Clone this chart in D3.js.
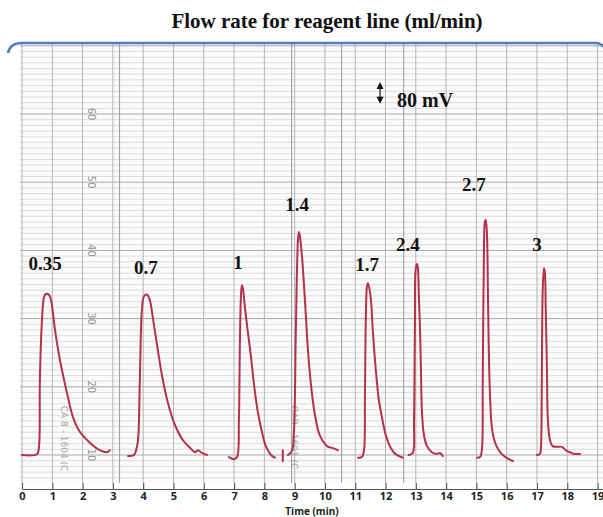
<!DOCTYPE html>
<html>
<head>
<meta charset="utf-8">
<script src="https://cdn.jsdelivr.net/npm/d3@7"></script>
<style>
  html, body { margin: 0; padding: 0; background: #fff; }
  svg { display: block; }
</style>
</head>
<body>
<script>
// Flow rate of the reagent line for each injection (ml/min)
const flowRates = ["0.35", "0.7", "1", "1.4", "1.7", "2.4", "2.7", "3"];

// Recorder trace of each injection: [time (min), chart divisions]
const peak035 = [[0,10],[0.5,10.15],[0.56,11.2],[0.59,21.0],[0.66,29.8],[0.73,33.2],[0.79,33.6],[0.89,33.5],[0.96,32.7],[1.09,28.3],[1.25,24.0],[1.49,19.0],[1.68,15.6],[1.91,13.4],[2.24,11.8],[2.57,10.7],[2.81,10.4],[2.9,10.7]];
const peak07 = [[3.5,9.85],[3.7,10.0],[3.76,10.6],[3.83,12.2],[3.89,21.0],[3.96,31.3],[4.03,33.3],[4.13,33.5],[4.22,32.7],[4.32,30.1],[4.46,26.1],[4.62,21.7],[4.82,17.6],[5.05,14.4],[5.31,12.2],[5.58,10.9],[5.71,10.4],[5.81,10.7],[5.94,10.3],[6.11,10.0]];
const peak1 = [[6.83,9.7],[7.0,9.4],[7.1,9.7],[7.16,15.1],[7.19,25.4],[7.23,33.5],[7.26,34.9],[7.29,34.5],[7.36,31.6],[7.46,27.9],[7.56,24.4],[7.66,20.3],[7.79,16.2],[7.92,13.4],[8.05,11.3],[8.22,10.0],[8.35,9.6]];
const penMark = [[8.61,10.7],[8.61,9.1]];
const peak14 = [[8.78,10.0],[8.91,10.6],[8.98,13.7],[9.04,28.3],[9.11,41.5],[9.14,42.7],[9.17,42.2],[9.24,39.3],[9.34,32.7],[9.44,25.4],[9.54,20.3],[9.67,15.9],[9.83,12.9],[10.07,11.3],[10.26,11.0],[10.43,10.7]];
const peak17 = [[11.09,9.6],[11.22,9.7],[11.29,10.7],[11.32,18.1],[11.35,29.8],[11.39,34.8],[11.42,35.2],[11.45,34.8],[11.52,32.7],[11.58,28.3],[11.68,22.5],[11.78,18.1],[11.88,15.6],[12.01,12.9],[12.18,11.0],[12.34,10.1],[12.57,9.6]];
const peak24 = [[12.77,10.0],[12.9,10.3],[12.94,15.1],[12.97,28.3],[13.0,37.4],[13.04,38.0],[13.07,37.4],[13.1,33.5],[13.14,28.3],[13.17,22.5],[13.2,16.6],[13.27,12.9],[13.37,11.3],[13.53,10.4],[13.7,10.15],[13.8,10.3],[13.89,9.85]];
const peak27 = [[15.02,9.6],[15.12,9.7],[15.18,10.7],[15.21,21.0],[15.25,40.1],[15.28,44.2],[15.31,44.5],[15.35,42.3],[15.38,34.2],[15.41,25.4],[15.45,18.8],[15.51,14.1],[15.61,11.9],[15.74,10.7],[15.91,9.85],[16.11,9.3],[16.21,9.1]];
const peak3 = [[17.0,10.0],[17.1,10.15],[17.13,11.0],[17.16,21.0],[17.19,34.2],[17.23,37.4],[17.26,36.8],[17.29,31.3],[17.33,22.5],[17.36,15.1],[17.43,12.2],[17.52,11.3],[17.66,11.2],[17.82,11.2],[17.95,10.7],[18.09,10.4],[18.25,10.15],[18.42,10.15]];

// Where each flow-rate label sits: [time (min), chart divisions]
const labelAt = [[0.76,37.1],[4.09,36.5],[7.13,37.3],[9.08,45.8],[11.39,37.0],[12.74,39.9],[14.92,48.7],[17.0,39.9]];

// Time axis ticks (min) and printed chart-paper scale
const timeTicks = d3.range(0, 20);
const paperScale = [10, 20, 30, 40, 50, 60];
const seams = [3.22, 8.9, 10.55, 12.6];

// 80 mV scale bar: time, from/to level (chart divisions)
const scaleBar = { time: 11.82, from: 61.5, to: 64.7, text: "80 mV" };

const W = 603, H = 517;
const svg = d3.select("body").append("svg").attr("width", W).attr("height", H);

const x = d3.scaleLinear().domain([0, 19.18]).range([22, 603]);
const y = d3.scaleLinear().domain([10, 60]).range([455, 114]);

const paperTop = 70.4, paperBottom = 5.9;
const px0 = 20, px1 = W;

// chart paper
svg.append("rect")
  .attr("x", px0).attr("y", y(paperTop))
  .attr("width", px1 - px0).attr("height", y(paperBottom) - y(paperTop))
  .attr("fill", "#fcfbfb");

// fine horizontal rulings, twelve per major division
const grid = svg.append("g");
const minorStep = 10 / 12;
for (let i = -4; i * minorStep + 10 <= paperTop; i++) {
  const v = 10 + i * minorStep;
  const major = i % 12 === 0;
  grid.append("line")
    .attr("x1", px0).attr("x2", px1)
    .attr("y1", y(v)).attr("y2", y(v))
    .attr("stroke", major ? "#a9a9a9" : "#d6d6d6")
    .attr("stroke-width", major ? 1 : 0.8);
}
// vertical rulings, one per minute
grid.selectAll("line.v").data(timeTicks).join("line")
  .attr("class", "v")
  .attr("x1", d => x(d)).attr("x2", d => x(d))
  .attr("y1", y(paperTop)).attr("y2", y(paperBottom))
  .attr("stroke", "#b4b4b4").attr("stroke-width", 1);
// joins between the pasted strips
grid.selectAll("line.s").data(seams).join("line")
  .attr("class", "s")
  .attr("x1", d => x(d)).attr("x2", d => x(d))
  .attr("y1", y(paperTop)).attr("y2", y(paperBottom))
  .attr("stroke", "#a0a0a0").attr("stroke-width", 1.1);

// printed scale numbers on the paper
svg.append("g").selectAll("text").data(paperScale).join("text")
  .attr("transform", d => `translate(${x(2.3)},${y(d)}) rotate(90)`)
  .attr("text-anchor", "middle").attr("dy", "0.35em")
  .attr("font-family", "DejaVu Sans, sans-serif").attr("font-size", 10)
  .attr("fill", "#939393")
  .text(d => d);

const paperNotes = [
  { t: 1.4, v: 7.6, text: "CA 8 - 1604 (C" },
  { t: 8.97, v: 7.9, text: "OAB - 1601 (C" }
];
svg.append("g").selectAll("text").data(paperNotes).join("text")
  .attr("transform", d => `translate(${x(d.t)},${y(d.v)}) rotate(90)`)
  .attr("text-anchor", "end").attr("dy", "0.35em")
  .attr("font-family", "DejaVu Sans, sans-serif").attr("font-size", 9)
  .attr("fill", "#a5a5a5")
  .text(d => d.text);

// top border
svg.append("path")
  .attr("d", `M8,53 Q10,43 22,43 L596,43 Q601,43 603,47`)
  .attr("fill", "none").attr("stroke", "#4f7fbd").attr("stroke-width", 2.6);

// recorder trace
const line = d3.line().x(d => x(d[0])).y(d => y(d[1])).curve(d3.curveCatmullRom.alpha(0.5));
const traces = [peak035, peak07, peak1, penMark, peak14, peak17, peak24, peak27, peak3];
svg.append("g").selectAll("path").data(traces).join("path")
  .attr("d", line)
  .attr("fill", "none").attr("stroke", "#b3304f").attr("stroke-width", 2)
  .attr("stroke-linejoin", "round").attr("stroke-linecap", "round");

// flow-rate labels
svg.append("g").selectAll("text").data(flowRates).join("text")
  .attr("x", (d, i) => x(labelAt[i][0]))
  .attr("y", (d, i) => y(labelAt[i][1]))
  .attr("text-anchor", "middle")
  .attr("font-family", "Liberation Serif, Times New Roman, serif")
  .attr("font-weight", "bold").attr("font-size", 19)
  .attr("fill", "#111")
  .text(d => d);

// 80 mV scale bar
const sb = svg.append("g");
const sx = x(scaleBar.time), sy1 = y(scaleBar.to), sy2 = y(scaleBar.from);
sb.append("line").attr("x1", sx).attr("x2", sx).attr("y1", sy1 + 4).attr("y2", sy2 - 4)
  .attr("stroke", "#111").attr("stroke-width", 1.2);
sb.append("path").attr("d", `M${sx},${sy1} L${sx - 3.5},${sy1 + 7} L${sx + 3.5},${sy1 + 7} Z`).attr("fill", "#111");
sb.append("path").attr("d", `M${sx},${sy2} L${sx - 3.5},${sy2 - 7} L${sx + 3.5},${sy2 - 7} Z`).attr("fill", "#111");
sb.append("text").attr("x", sx + 17).attr("y", sy2 + 3)
  .attr("font-family", "Liberation Serif, Times New Roman, serif")
  .attr("font-weight", "bold").attr("font-size", 20).attr("fill", "#111")
  .text(scaleBar.text);

// title
svg.append("text").attr("x", 327).attr("y", 28).attr("text-anchor", "middle")
  .attr("font-family", "Liberation Serif, Times New Roman, serif")
  .attr("font-weight", "bold").attr("font-size", 21).attr("fill", "#111")
  .text("Flow rate for reagent line (ml/min)");

// time axis
const axis = svg.append("g").attr("transform", "translate(0,489)")
  .call(d3.axisBottom(x).tickValues(timeTicks).tickFormat(d3.format("d"))
    .tickSizeInner(-6).tickSizeOuter(0).tickPadding(3));
axis.select(".domain").attr("stroke", "#555").attr("stroke-width", 1.2);
axis.selectAll(".tick line").attr("stroke", "#555").attr("stroke-width", 1.2);
axis.selectAll(".tick text")
  .attr("font-family", "Open Sans, sans-serif").attr("font-weight", "bold")
  .attr("font-size", 11).attr("fill", "#222");
svg.append("text").attr("x", 312).attr("y", 515).attr("text-anchor", "middle")
  .attr("font-family", "Open Sans, sans-serif").attr("font-weight", "bold")
  .attr("font-size", 10).attr("fill", "#222")
  .text("Time (min)");
</script>
</body>
</html>
